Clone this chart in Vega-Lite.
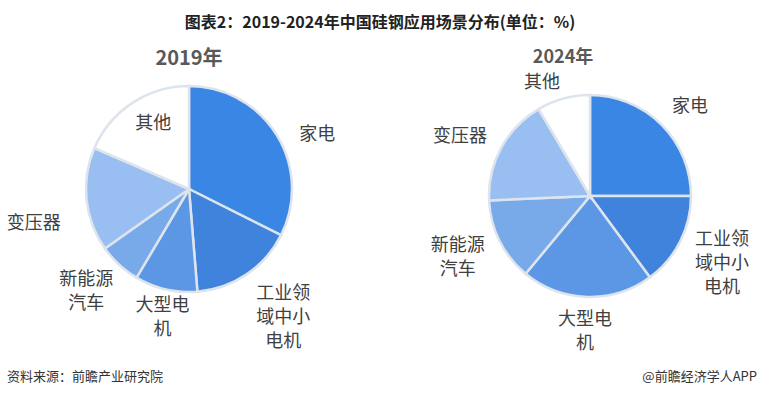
{
  "$schema": "https://vega.github.io/schema/vega-lite/v6.json",
  "background": "white",
  "padding": {"top": 14, "left": 0, "right": 0, "bottom": 0},
  "title": {"text": "图表2：2019-2024年中国硅钢应用场景分布(单位：%)", "fontSize": 16, "fontWeight": "bold", "color": "#222222", "anchor": "middle", "offset": 2},
  "bounds": "flush",
  "spacing": 285,
  "datasets": {
    "shares": [
      {"year": 2019, "cat": "家电", "label": "家电", "share": 32.4},
      {"year": 2019, "cat": "工业领域中小电机", "label": "工业领\n域中小\n电机", "share": 16.3},
      {"year": 2019, "cat": "大型电机", "label": "大型电\n机", "share": 9.8},
      {"year": 2019, "cat": "新能源汽车", "label": "新能源\n汽车", "share": 6.7},
      {"year": 2019, "cat": "变压器", "label": "变压器", "share": 16.3},
      {"year": 2019, "cat": "其他", "label": "其他", "share": 18.5},
      {"year": 2024, "cat": "家电", "label": "家电", "share": 25.0},
      {"year": 2024, "cat": "工业领域中小电机", "label": "工业领\n域中小\n电机", "share": 14.9},
      {"year": 2024, "cat": "大型电机", "label": "大型电\n机", "share": 21.1},
      {"year": 2024, "cat": "新能源汽车", "label": "新能源\n汽车", "share": 13.3},
      {"year": 2024, "cat": "变压器", "label": "变压器", "share": 17.2},
      {"year": 2024, "cat": "其他", "label": "其他", "share": 8.5}
    ],
    "footer": [
      {"role": "source", "t": "资料来源：前瞻产业研究院"},
      {"role": "credit", "t": "@前瞻经济学人APP"}
    ]
  },
  "vconcat": [
    {
      "hconcat": [
        {
          "width": 378,
          "height": 214,
          "title": {"text": "2019年", "fontSize": 20, "fontWeight": "bold", "color": "#595959", "anchor": "middle", "offset": -25},
          "data": {"name": "shares"},
          "transform": [
            {"filter": "datum.year === 2019"},
            {"window": [{"op": "row_number", "as": "rank"}]}
          ],
          "encoding": {
            "theta": {"field": "share", "type": "quantitative", "stack": true},
            "order": {"field": "rank", "type": "quantitative"}
          },
          "layer": [
            {
              "mark": {"type": "arc", "outerRadius": 103, "stroke": "#dde4ed", "strokeWidth": 2.5},
              "encoding": {
                "color": {"field": "cat", "type": "nominal", "legend": null,
                  "scale": {"domain": ["家电", "工业领域中小电机", "大型电机", "新能源汽车", "变压器", "其他"],
                            "range": ["#3a86e5", "#4083dc", "#5b97e4", "#78aaea", "#98bef2", "#ffffff"]}}
              }
            },
            {
              "mark": {"type": "text", "radius": 140, "dx": 9, "dy": 20, "fontSize": 18, "lineBreak": "\n", "lineHeight": 24, "color": "#404040"},
              "encoding": {"text": {"condition": {"test": "datum.cat !== '家电'", "value": ""}, "field": "label"}}
            },
            {
              "mark": {"type": "text", "radius": 140, "dx": 16, "dy": -11, "fontSize": 18, "lineBreak": "\n", "lineHeight": 24, "color": "#404040"},
              "encoding": {"text": {"condition": {"test": "datum.cat !== '工业领域中小电机'", "value": ""}, "field": "label"}}
            },
            {
              "mark": {"type": "text", "radius": 140, "dx": 5, "dy": -19, "fontSize": 18, "lineBreak": "\n", "lineHeight": 24, "color": "#404040"},
              "encoding": {"text": {"condition": {"test": "datum.cat !== '大型电机'", "value": ""}, "field": "label"}}
            },
            {
              "mark": {"type": "text", "radius": 140, "dx": -8, "dy": -12, "fontSize": 18, "lineBreak": "\n", "lineHeight": 24, "color": "#404040"},
              "encoding": {"text": {"condition": {"test": "datum.cat !== '新能源汽车'", "value": ""}, "field": "label"}}
            },
            {
              "mark": {"type": "text", "radius": 140, "dx": -16, "dy": 21, "fontSize": 18, "lineBreak": "\n", "lineHeight": 24, "color": "#404040"},
              "encoding": {"text": {"condition": {"test": "datum.cat !== '变压器'", "value": ""}, "field": "label"}}
            },
            {
              "mark": {"type": "text", "radius": 140, "dx": 41, "dy": 52, "fontSize": 18, "lineBreak": "\n", "lineHeight": 24, "color": "#404040"},
              "encoding": {"text": {"condition": {"test": "datum.cat !== '其他'", "value": ""}, "field": "label"}}
            }
          ]
        },
        {
          "width": 340,
          "height": 228,
          "title": {"text": "2024年", "fontSize": 18, "fontWeight": "bold", "color": "#595959", "anchor": "middle", "offset": -34, "dx": -27},
          "data": {"name": "shares"},
          "transform": [
            {"filter": "datum.year === 2024"},
            {"window": [{"op": "row_number", "as": "rank"}]}
          ],
          "encoding": {
            "theta": {"field": "share", "type": "quantitative", "stack": true},
            "order": {"field": "rank", "type": "quantitative"}
          },
          "layer": [
            {
              "mark": {"type": "arc", "outerRadius": 101, "stroke": "#dde4ed", "strokeWidth": 2.5},
              "encoding": {
                "color": {"field": "cat", "type": "nominal", "legend": null,
                  "scale": {"domain": ["家电", "工业领域中小电机", "大型电机", "新能源汽车", "变压器", "其他"],
                            "range": ["#3a86e5", "#4083dc", "#5b97e4", "#78aaea", "#98bef2", "#ffffff"]}}
              }
            },
            {
              "mark": {"type": "text", "radius": 140, "dx": 1, "dy": 10, "fontSize": 18, "lineBreak": "\n", "lineHeight": 24, "color": "#404040"},
              "encoding": {"text": {"condition": {"test": "datum.cat !== '家电'", "value": ""}, "field": "label"}}
            },
            {
              "mark": {"type": "text", "radius": 140, "dx": 7, "dy": -19, "fontSize": 18, "lineBreak": "\n", "lineHeight": 24, "color": "#404040"},
              "encoding": {"text": {"condition": {"test": "datum.cat !== '工业领域中小电机'", "value": ""}, "field": "label"}}
            },
            {
              "mark": {"type": "text", "radius": 140, "dx": -1, "dy": -16, "fontSize": 18, "lineBreak": "\n", "lineHeight": 24, "color": "#404040"},
              "encoding": {"text": {"condition": {"test": "datum.cat !== '大型电机'", "value": ""}, "field": "label"}}
            },
            {
              "mark": {"type": "text", "radius": 140, "dx": -7, "dy": -12, "fontSize": 18, "lineBreak": "\n", "lineHeight": 24, "color": "#404040"},
              "encoding": {"text": {"condition": {"test": "datum.cat !== '新能源汽车'", "value": ""}, "field": "label"}}
            },
            {
              "mark": {"type": "text", "radius": 140, "dx": -7, "dy": 8, "fontSize": 18, "lineBreak": "\n", "lineHeight": 24, "color": "#404040"},
              "encoding": {"text": {"condition": {"test": "datum.cat !== '变压器'", "value": ""}, "field": "label"}}
            },
            {
              "mark": {"type": "text", "radius": 140, "dx": -11, "dy": 22, "fontSize": 18, "lineBreak": "\n", "lineHeight": 24, "color": "#404040"},
              "encoding": {"text": {"condition": {"test": "datum.cat !== '其他'", "value": ""}, "field": "label"}}
            }
          ]
        }
      ],
      "spacing": 42,
      "bounds": "flush"
    },
    {
      "width": 760,
      "height": 20,
      "data": {"name": "footer"},
      "encoding": {
        "x": {"field": "role", "type": "nominal", "axis": null, "scale": {"type": "point", "padding": 0, "domain": ["source", "credit"]}},
        "text": {"field": "t"}
      },
      "layer": [
        {
          "transform": [{"filter": "datum.role === 'source'"}],
          "mark": {"type": "text", "align": "left", "dx": 7, "fontSize": 13, "color": "#333333"}
        },
        {
          "transform": [{"filter": "datum.role === 'credit'"}],
          "mark": {"type": "text", "align": "right", "dx": -3, "fontSize": 13, "color": "#333333"}
        }
      ]
    }
  ],
  "config": {
    "font": "Noto Sans CJK SC",
    "view": {"stroke": null}
  }
}
